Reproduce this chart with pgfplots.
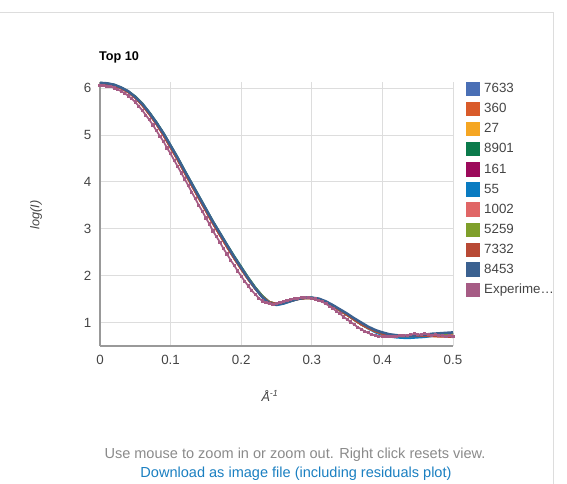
\documentclass[border=0pt]{standalone}
\usepackage{pgfplots}
\usepackage{pgfplotstable}
\pgfplotsset{compat=1.18}
\usepackage{fontspec}
\setmainfont{Liberation Sans}

\definecolor{c7633}{HTML}{4A6FB5}
\definecolor{c360}{HTML}{D95B2A}
\definecolor{c27}{HTML}{F5A623}
\definecolor{c8901}{HTML}{0B7A4B}
\definecolor{c161}{HTML}{9C0A5B}
\definecolor{c55}{HTML}{0A7BC1}
\definecolor{c1002}{HTML}{E06666}
\definecolor{c5259}{HTML}{7F9F2A}
\definecolor{c7332}{HTML}{B84A35}
\definecolor{c8453}{HTML}{3B6190}
\definecolor{cexp}{HTML}{A65C85}
\definecolor{labelgray}{HTML}{444444}
\definecolor{gridgray}{HTML}{DDDDDD}
\definecolor{axisgray}{HTML}{999999}
\definecolor{notegray}{HTML}{8A8A8A}
\definecolor{linkblue}{HTML}{1A7FC1}

\pgfplotstableread{
q a7633 a360 a27 a8901 a161 a55 a1002 a5259 a7332 a8453
0.00 6.10 6.09 6.10 6.11 6.10 6.10 6.09 6.10 6.09 6.11
0.01 6.09 6.08 6.09 6.10 6.09 6.09 6.08 6.09 6.08 6.10
0.02 6.06 6.05 6.06 6.07 6.06 6.06 6.05 6.06 6.05 6.07
0.03 6.00 5.99 6.00 6.01 6.00 6.00 5.99 6.00 5.99 6.01
0.04 5.92 5.91 5.92 5.93 5.92 5.92 5.91 5.93 5.91 5.93
0.05 5.80 5.79 5.80 5.82 5.80 5.80 5.79 5.81 5.79 5.81
0.06 5.64 5.63 5.64 5.67 5.64 5.65 5.63 5.66 5.63 5.66
0.07 5.45 5.44 5.45 5.48 5.45 5.46 5.44 5.47 5.44 5.47
0.08 5.24 5.23 5.24 5.27 5.24 5.25 5.23 5.26 5.23 5.26
0.09 5.00 4.99 5.00 5.04 5.00 5.01 4.99 5.02 4.99 5.03
0.10 4.74 4.73 4.74 4.78 4.74 4.75 4.73 4.76 4.73 4.77
0.11 4.48 4.47 4.48 4.52 4.48 4.49 4.47 4.50 4.47 4.51
0.12 4.20 4.19 4.20 4.24 4.20 4.21 4.19 4.22 4.19 4.23
0.13 3.93 3.92 3.93 3.97 3.93 3.94 3.92 3.95 3.92 3.96
0.14 3.66 3.65 3.66 3.70 3.66 3.67 3.65 3.68 3.65 3.69
0.15 3.39 3.38 3.39 3.43 3.39 3.40 3.38 3.41 3.38 3.42
0.16 3.12 3.11 3.12 3.16 3.12 3.13 3.11 3.14 3.11 3.15
0.17 2.87 2.86 2.87 2.91 2.87 2.88 2.86 2.89 2.86 2.90
0.18 2.62 2.61 2.62 2.66 2.62 2.63 2.61 2.64 2.61 2.65
0.19 2.38 2.37 2.38 2.42 2.38 2.39 2.37 2.40 2.37 2.40
0.20 2.15 2.14 2.15 2.19 2.15 2.16 2.14 2.17 2.14 2.17
0.21 1.93 1.92 1.93 1.96 1.93 1.94 1.92 1.95 1.92 1.94
0.22 1.72 1.72 1.73 1.75 1.73 1.73 1.72 1.74 1.72 1.73
0.23 1.54 1.55 1.55 1.57 1.55 1.54 1.55 1.56 1.55 1.54
0.24 1.42 1.43 1.43 1.44 1.43 1.41 1.43 1.43 1.43 1.41
0.25 1.39 1.40 1.40 1.40 1.40 1.37 1.40 1.40 1.40 1.38
0.26 1.42 1.42 1.42 1.42 1.42 1.40 1.42 1.42 1.42 1.41
0.27 1.47 1.46 1.47 1.46 1.46 1.45 1.46 1.46 1.46 1.46
0.28 1.51 1.50 1.51 1.50 1.50 1.50 1.50 1.50 1.50 1.50
0.29 1.53 1.52 1.53 1.52 1.52 1.53 1.52 1.52 1.52 1.53
0.30 1.53 1.52 1.53 1.52 1.52 1.53 1.52 1.52 1.52 1.53
0.31 1.50 1.49 1.50 1.49 1.49 1.50 1.49 1.49 1.49 1.51
0.32 1.44 1.43 1.44 1.43 1.43 1.44 1.43 1.43 1.43 1.45
0.33 1.36 1.35 1.36 1.35 1.35 1.36 1.35 1.35 1.35 1.37
0.34 1.27 1.26 1.27 1.26 1.26 1.27 1.26 1.26 1.26 1.28
0.35 1.17 1.16 1.17 1.16 1.16 1.17 1.16 1.16 1.16 1.19
0.36 1.07 1.06 1.07 1.06 1.06 1.06 1.06 1.06 1.06 1.09
0.37 0.97 0.96 0.97 0.96 0.96 0.96 0.96 0.96 0.96 1.00
0.38 0.89 0.88 0.89 0.88 0.88 0.87 0.88 0.88 0.88 0.91
0.39 0.82 0.81 0.82 0.81 0.81 0.79 0.81 0.81 0.81 0.84
0.40 0.77 0.76 0.77 0.76 0.76 0.73 0.76 0.76 0.76 0.79
0.41 0.74 0.73 0.74 0.73 0.73 0.70 0.73 0.73 0.73 0.75
0.42 0.72 0.71 0.72 0.71 0.71 0.68 0.72 0.71 0.71 0.73
0.43 0.71 0.71 0.71 0.71 0.71 0.67 0.71 0.71 0.71 0.72
0.44 0.71 0.71 0.71 0.71 0.71 0.67 0.71 0.71 0.71 0.72
0.45 0.72 0.71 0.72 0.72 0.72 0.68 0.72 0.72 0.71 0.73
0.46 0.73 0.71 0.73 0.72 0.73 0.69 0.73 0.73 0.71 0.74
0.47 0.75 0.71 0.74 0.73 0.74 0.71 0.74 0.74 0.71 0.76
0.48 0.76 0.71 0.75 0.74 0.75 0.73 0.74 0.75 0.70 0.77
0.49 0.77 0.70 0.76 0.74 0.76 0.75 0.74 0.76 0.70 0.78
0.50 0.78 0.70 0.77 0.75 0.77 0.77 0.74 0.77 0.69 0.79
}\models

\pgfplotstableread{
q v
0.000 6.05
0.005 6.06
0.010 6.04
0.015 6.03
0.020 6.00
0.025 5.97
0.030 5.93
0.035 5.89
0.040 5.83
0.045 5.77
0.050 5.70
0.055 5.61
0.060 5.52
0.065 5.42
0.070 5.32
0.075 5.21
0.080 5.09
0.085 4.97
0.090 4.86
0.095 4.72
0.100 4.60
0.105 4.46
0.110 4.33
0.115 4.19
0.120 4.06
0.125 3.92
0.130 3.78
0.135 3.64
0.140 3.50
0.145 3.37
0.150 3.23
0.155 3.10
0.160 2.95
0.165 2.83
0.170 2.71
0.175 2.57
0.180 2.46
0.185 2.33
0.190 2.22
0.195 2.10
0.200 1.99
0.205 1.88
0.210 1.78
0.215 1.68
0.220 1.60
0.225 1.52
0.230 1.46
0.235 1.42
0.240 1.40
0.245 1.39
0.250 1.40
0.255 1.42
0.260 1.44
0.265 1.47
0.270 1.49
0.275 1.51
0.280 1.52
0.285 1.53
0.290 1.53
0.295 1.53
0.300 1.52
0.305 1.50
0.310 1.47
0.315 1.44
0.320 1.40
0.325 1.35
0.330 1.30
0.335 1.24
0.340 1.19
0.345 1.12
0.350 1.07
0.355 1.01
0.360 0.96
0.365 0.90
0.370 0.86
0.375 0.81
0.380 0.78
0.385 0.74
0.390 0.73
0.395 0.71
0.400 0.70
0.405 0.70
0.410 0.71
0.415 0.70
0.420 0.71
0.425 0.72
0.430 0.72
0.435 0.73
0.440 0.74
0.445 0.76
0.450 0.75
0.455 0.74
0.460 0.76
0.465 0.74
0.470 0.73
0.475 0.74
0.480 0.72
0.485 0.73
0.490 0.71
0.495 0.72
0.500 0.70
}\expdata

\begin{document}
\begin{tikzpicture}
\path[use as bounding box] (0pt,0pt) rectangle (425.25pt,363pt);
\draw[gridgray, line width=0.6pt] (0pt,354pt) -- (414.75pt,354pt) -- (414.75pt,0pt);
\begin{axis}[
  at={(75pt,103.5pt)}, anchor=south west,
  scale only axis, width=264.75pt, height=198pt,
  xmin=0, xmax=0.5, ymin=0.5, ymax=6.128,
  axis x line=bottom, axis y line=left,
  axis line style={axisgray, line width=0.8pt, -},
  xtick={0,0.1,0.2,0.3,0.4,0.5},
  xticklabels={0,0.1,0.2,0.3,0.4,0.5},
  ytick={1,2,3,4,5,6},
  major tick length=0pt,
  grid=major, major grid style={gridgray, line width=0.6pt},
  tick label style={text=labelgray, font=\fontsize{10}{12}\selectfont},
  /pgf/number format/assume math mode=true,
  xticklabel style={yshift=-3pt},
  yticklabel style={xshift=-3pt},
  legend style={draw=none, fill=none, at={(1.035,1.006)}, anchor=north west,
    font=\fontsize{10}{12}\selectfont, text=labelgray, row sep=2.6pt,
    inner sep=0pt, legend cell align=left},
  legend image code/.code={\fill[#1] (0pt,-4.6pt) rectangle (9.2pt,4.6pt);
    \path[draw=none, fill=none] (0pt,0pt) -- (11pt,0pt);},
  every axis plot/.append style={line width=1.5pt},
]
\addplot[color=c7633, no markers] table[x=q,y=a7633] {\models};
\addlegendentry{7633}
\addplot[color=c360, no markers] table[x=q,y=a360] {\models};
\addlegendentry{360}
\addplot[color=c27, no markers] table[x=q,y=a27] {\models};
\addlegendentry{27}
\addplot[color=c8901, no markers] table[x=q,y=a8901] {\models};
\addlegendentry{8901}
\addplot[color=c161, no markers] table[x=q,y=a161] {\models};
\addlegendentry{161}
\addplot[color=c55, no markers] table[x=q,y=a55] {\models};
\addlegendentry{55}
\addplot[color=c1002, no markers] table[x=q,y=a1002] {\models};
\addlegendentry{1002}
\addplot[color=c5259, no markers] table[x=q,y=a5259] {\models};
\addlegendentry{5259}
\addplot[color=c7332, no markers] table[x=q,y=a7332] {\models};
\addlegendentry{7332}
\addplot[color=c8453, no markers, line width=1.9pt] table[x=q,y=a8453] {\models};
\addlegendentry{8453}
\addplot[color=cexp, line width=1.3pt, mark=square*, mark size=0.55pt] table[x=q,y=v] {\expdata};
\addlegendentry{Experime…}
\end{axis}
\node[anchor=west, font=\bfseries\fontsize{9.5}{11}\selectfont] at (70.75pt,320.25pt) {Top 10};
\node[rotate=90, text=labelgray, font=\itshape\fontsize{9.5}{11}\selectfont] at (27pt,201.75pt) {log(I)};
\node[text=labelgray, font=\itshape\fontsize{9.5}{11}\selectfont] at (202.5pt,66pt) {Å\textsuperscript{-1}};
\node[text=notegray, font=\fontsize{10.9}{13}\selectfont] at (221.25pt,22pt) {Use mouse to zoom in or zoom out. Right click resets view.};
\node[text=linkblue, font=\fontsize{10.9}{13}\selectfont] at (222pt,7.5pt) {Download as image file (including residuals plot)};
\end{tikzpicture}
\end{document}
